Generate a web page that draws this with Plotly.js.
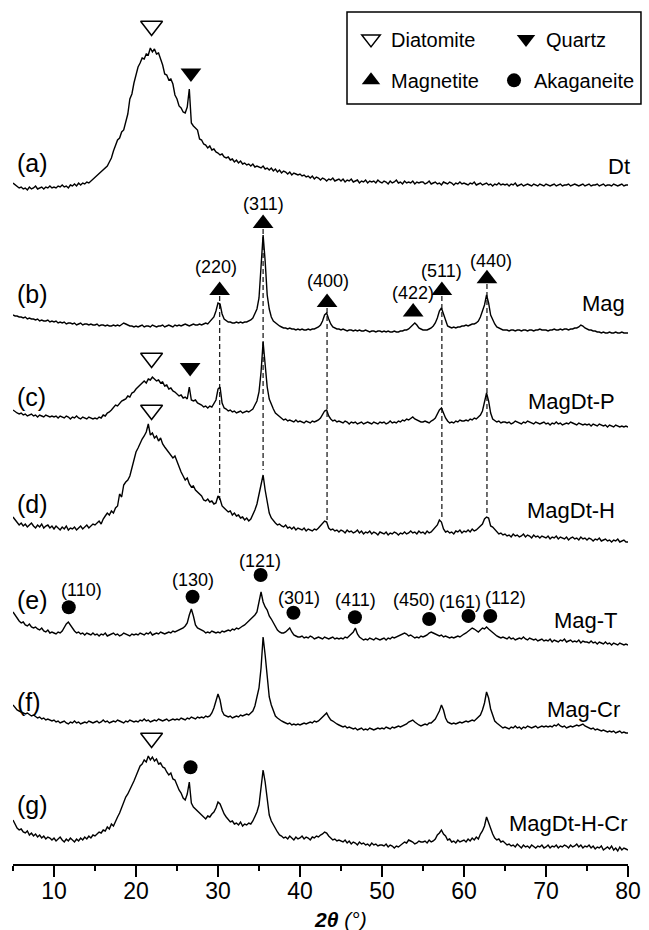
<!DOCTYPE html>
<html><head><meta charset="utf-8">
<script src="https://cdn.plot.ly/plotly-3.0.1.min.js"></script>
<style>html,body{margin:0;padding:0;background:#fff}</style>
</head><body><div id="chart" style="width:649px;height:930px"></div>
<script>
// 2-theta sampling: start 5 deg, step 0.25 deg, 301 points to 80 deg
const sampleNames = ["Dt", "Mag", "MagDt-P", "MagDt-H", "Mag-T", "Mag-Cr", "MagDt-H-Cr"];
const panelLabels = ["(a)", "(b)", "(c)", "(d)", "(e)", "(f)", "(g)"];
const xTickLabels = ["10", "20", "30", "40", "50", "60", "70", "80"];

const intDt = [
2,0,-1,-3,-2,-4,-3,-5,-2,-4,-3,-1,-4,-3,-2,-4,-2,-3,-1,-3,
-2,-3,-1,-2,0,-2,-1,-3,0,-1,1,-1,2,0,2,1,3,2,4,5,
7,10,11,14,15,18,19,23,27,34,39,45,47,53,55,63,71,86,91,102,
109,118,122,127,126,131,130,137,133,136,131,132,126,120,111,110,105,106,101,90,
86,79,77,73,72,78,96,62,59,57,55,46,45,41,40,37,39,35,36,33,
32,30,31,28,27,28,25,26,23,25,22,24,21,22,20,21,19,21,18,19,
18,17,19,16,17,15,17,14,16,13,15,12,14,13,11,13,10,12,11,10,
11,9,10,8,9,7,9,6,8,7,5,7,6,4,6,5,7,4,5,6,
4,6,3,5,4,6,3,4,5,2,4,3,5,2,4,3,4,2,5,3,
2,4,3,1,4,2,3,5,2,3,1,4,2,3,2,4,1,3,2,3,
3,1,2,4,1,2,3,1,2,0,3,2,1,3,2,0,2,1,3,1,
2,1,0,2,1,3,0,1,2,0,1,2,0,1,-1,1,0,2,0,1,
0,1,-1,1,0,2,-1,0,1,-1,0,1,0,-1,1,0,-1,1,0,-1,
1,0,-1,0,1,-1,0,1,-1,0,0,1,-1,0,1,0,-1,0,1,-1,
0,1,-1,0,0,1,-1,0,1,-1,0,0,-1,1,0,-1,0,1,-1,0,
0];

const intMag = [
18,17,17,16,16,15,16,14,15,14,14,13,14,12,13,12,12,13,11,12,
11,12,10,11,10,11,9,10,10,9,10,8,9,10,8,9,9,8,9,8,
8,9,7,8,8,7,8,7,7,8,7,8,7,9,10,9,8,7,7,6,
7,6,7,8,6,7,7,6,8,7,6,7,7,8,6,7,8,7,6,8,
7,8,7,8,9,8,7,8,9,8,8,9,8,9,10,9,11,13,16,22,
30,29,19,14,12,11,11,10,10,11,10,11,10,11,11,12,13,15,19,24,
35,62,98,72,38,24,16,12,10,8,7,6,5,5,4,5,4,4,3,4,
3,4,3,3,4,3,4,4,5,6,8,12,18,20,14,9,6,5,4,4,
3,4,3,2,3,3,2,3,2,3,2,2,3,2,1,2,2,1,2,2,
1,2,1,2,1,1,2,1,1,2,2,3,3,4,6,9,10,8,5,4,
3,3,3,4,5,7,10,15,22,25,19,11,7,6,5,6,5,6,6,7,
7,8,7,8,9,9,10,12,16,22,28,38,30,18,13,9,6,5,4,3,
3,3,2,3,3,2,3,3,2,3,3,2,3,3,2,3,3,4,3,3,
3,2,3,3,4,3,3,4,3,4,4,3,4,4,5,5,6,8,7,5,
4,3,3,2,2,1,1,0,1,0,0,1,0,0,1,0,0,1,0,0,
0];

const intMagDtP = [
17,15,14,13,14,12,13,11,12,13,11,12,10,12,11,10,12,11,10,11,
10,11,9,11,10,9,11,10,8,10,9,11,9,8,10,9,8,10,9,8,
9,8,10,9,12,11,14,15,17,19,22,21,24,26,27,28,31,30,34,35,
38,40,42,43,46,44,48,47,50,48,46,47,44,45,41,42,38,39,36,35,
33,31,32,29,30,28,40,27,26,27,24,23,22,20,21,19,21,20,24,27,
38,40,24,19,18,16,17,15,16,14,15,16,14,15,16,15,17,18,22,26,
35,55,85,62,40,28,22,18,14,12,10,9,7,8,6,7,6,5,7,5,
6,5,4,6,5,4,6,5,6,7,9,12,16,17,11,8,6,7,5,6,
5,4,6,5,3,5,4,5,3,4,5,3,4,5,4,3,5,4,3,5,
4,5,3,4,6,4,5,4,6,5,7,6,8,7,9,10,8,7,6,5,
5,6,5,4,6,7,9,13,17,19,14,9,6,4,5,4,6,5,7,6,
6,7,6,8,7,9,8,10,12,16,24,34,26,14,8,6,5,6,4,5,
5,4,5,3,4,6,5,4,3,5,4,6,5,4,3,5,4,3,4,5,
3,4,2,4,3,5,3,4,2,3,4,3,5,4,3,2,4,3,2,3,
2,3,1,3,2,1,3,2,1,2,0,2,1,0,2,1,0,1,0,1,
0];

const intMagDtH = [
25,22,19,17,19,16,18,15,17,19,16,14,17,15,18,14,16,17,14,16,
13,16,14,12,15,13,16,12,14,13,15,12,14,16,13,15,17,14,16,18,
17,19,21,18,23,26,29,27,31,29,34,36,48,45,57,60,62,66,74,80,
90,94,99,103,106,110,118,107,109,104,106,101,104,98,95,92,90,87,84,86,
80,75,70,66,62,64,58,55,56,52,50,47,46,42,41,43,40,41,38,39,
46,43,36,34,32,30,31,27,29,26,27,24,25,22,24,21,23,27,32,38,
48,58,67,52,38,29,24,21,19,17,18,16,15,17,14,15,13,15,12,14,
13,12,14,11,13,12,11,13,12,14,16,18,21,20,14,12,13,11,12,10,
12,11,9,12,10,11,9,10,12,9,11,8,10,9,11,8,10,9,7,10,
9,8,10,7,9,8,10,9,7,9,8,10,8,9,11,9,10,8,11,9,
10,8,11,9,10,12,14,17,22,20,13,10,11,9,10,8,11,10,12,9,
11,10,12,10,13,11,12,14,15,18,23,25,24,16,15,13,11,8,9,7,
8,6,7,5,8,6,7,5,6,8,5,7,6,4,7,5,6,4,6,5,
4,6,3,5,4,6,3,5,4,3,5,2,4,5,3,4,2,5,3,4,
2,4,3,1,3,2,4,1,2,3,1,2,0,2,1,3,0,1,2,0,
0];

const intMagT = [
33,30,26,24,22,23,20,19,21,18,17,18,16,15,17,14,13,15,12,13,
12,11,13,12,14,18,21,23,20,16,14,12,13,11,12,10,12,11,10,12,
10,11,9,11,10,12,9,10,11,12,10,11,9,10,12,11,10,9,11,10,
11,10,12,11,10,12,11,13,10,11,12,11,13,12,11,12,13,12,14,13,
14,15,16,17,19,22,30,36,29,20,17,16,15,14,12,13,12,14,13,12,
13,12,14,13,14,15,14,16,15,17,16,18,19,20,22,23,25,28,30,33,
42,53,43,38,35,29,26,22,18,15,13,12,12,13,15,17,13,10,9,8,
8,9,7,8,7,9,8,6,7,8,7,6,8,7,6,7,8,6,7,6,
7,6,8,7,9,10,13,17,11,8,6,5,6,5,7,6,5,7,6,5,
6,7,5,7,6,8,7,8,9,10,11,12,11,9,10,8,7,8,7,9,
8,9,10,12,13,12,11,10,9,10,8,9,8,7,8,7,8,9,8,10,
11,12,14,15,17,16,14,13,15,17,16,18,16,14,12,10,9,8,7,8,
7,6,8,6,7,5,6,7,6,8,6,5,7,6,5,6,4,5,6,4,
5,4,6,3,5,4,3,5,4,6,3,4,5,3,4,3,5,2,4,3,
3,2,4,2,3,1,3,2,1,3,1,2,0,2,1,0,2,1,0,1,
0];

const intMagCr = [
28,25,23,22,21,20,19,20,18,17,18,16,15,16,14,15,13,14,13,12,
13,11,12,10,11,12,10,9,11,10,12,10,11,9,10,11,10,12,11,10,
11,12,10,11,13,11,12,10,11,12,11,13,12,11,10,12,11,13,12,11,
12,11,13,12,14,12,13,11,12,13,12,14,13,12,13,14,12,13,14,13,
14,13,15,14,13,15,14,16,15,14,16,15,16,15,17,16,17,20,25,33,
39,33,22,18,17,16,17,15,16,17,16,18,17,18,19,18,20,22,27,35,
45,65,96,78,55,36,28,22,17,15,13,12,11,10,9,10,8,9,8,9,
8,9,10,9,10,11,10,12,11,12,14,16,19,20,16,13,12,10,9,8,
7,6,7,5,6,5,4,5,3,4,5,3,4,3,5,4,3,4,5,4,
5,4,6,5,4,6,5,6,7,6,7,8,9,11,12,13,11,9,8,7,
8,9,8,10,10,12,14,18,22,28,23,15,11,10,9,10,9,10,11,10,
11,12,11,12,13,12,14,15,18,23,30,41,35,24,17,12,10,8,6,5,
6,5,4,6,5,7,5,6,4,6,5,7,6,5,6,7,5,6,7,6,
7,6,7,6,8,7,9,7,6,7,5,6,7,6,7,8,7,8,9,7,
6,5,4,5,3,4,3,2,3,2,1,2,1,2,0,1,2,0,1,0,
0];

const intMagDtHCr = [
30,26,22,20,21,18,17,19,15,17,14,16,13,15,12,14,11,13,12,10,
12,9,11,13,10,8,11,9,12,10,8,11,9,12,10,13,11,14,12,15,
14,16,18,17,20,19,23,21,26,24,29,33,37,42,48,53,56,60,64,69,
74,79,84,86,90,88,94,90,93,89,91,86,87,83,82,78,75,77,71,70,
64,60,57,52,50,56,68,47,43,41,39,36,35,33,31,34,33,36,38,42,
48,46,41,36,33,30,28,29,26,27,25,28,24,26,25,27,26,29,33,38,
45,60,80,68,50,35,29,25,21,18,15,14,12,13,11,14,12,10,13,11,
12,14,11,13,12,10,13,12,14,13,15,16,18,17,14,12,10,11,9,10,
9,8,10,7,9,6,8,7,5,8,6,7,5,6,4,7,5,6,4,5,
5,4,6,3,5,4,2,4,3,5,6,8,7,10,9,8,6,7,9,8,
8,9,7,10,8,9,11,15,17,20,16,14,10,11,8,9,7,10,8,9,
10,8,11,9,12,10,13,11,16,19,24,33,27,20,16,12,10,11,8,9,
7,5,6,4,5,3,6,4,2,5,3,4,2,5,3,2,4,3,5,2,
3,5,2,4,3,5,2,4,3,5,4,2,5,3,4,6,3,5,2,4,
3,5,2,4,1,3,2,4,0,2,3,1,4,0,2,-1,3,0,2,1,
0];

const series = [intDt, intMag, intMagDtP, intMagDtH, intMagT, intMagCr, intMagDtHCr];
// vertical stacking offsets of each pattern
const offsets = [679, 531, 437, 322, 219, 131, 14];

// phase markers (2theta, height above the pattern's offset, pattern index)
const diatomiteX = [21.9, 21.9, 21.9, 21.9];
const diatomiteH = [159, 69, 132, 112];
const diatomitePanel = [0, 2, 3, 6];
const quartzX = [26.7, 26.6];
const quartzH = [112, 59.5];
const quartzPanel = [0, 2];
const magnetiteX = [30.2, 35.5, 43.3, 53.8, 57.3, 62.8];
const magnetiteH = [42.5, 109.5, 30.5, 21, 42.5, 54.3];
const magnetiteHKL = ["(220)", "(311)", "(400)", "(422)", "(511)", "(440)"];
const magnetiteLabelX = [29.8, 35.6, 43.4, 53.8, 57.3, 63.3];
const magnetiteLabelH = [66.5, 129.3, 52, 40.5, 62.5, 72.5];
const akaganeiteX = [11.8, 26.9, 35.2, 39.2, 46.7, 55.75, 60.55, 63.2, 26.65];
const akaganeiteH = [37.7, 48.3, 70, 32.3, 27.7, 26, 29, 29, 82.7];
const akaganeitePanel = [4, 4, 4, 4, 4, 4, 4, 4, 6];
const akaganeiteHKL = ["(110)", "(130)", "(121)", "(301)", "(411)", "(450)", "(161)", "(112)"];
const akaganeiteLabelX = [13.3, 27.0, 35.1, 39.85, 46.8, 53.9, 59.5, 65.1];
const akaganeiteLabelH = [55, 65, 84.5, 47, 45, 45, 43.5, 47];
// dashed magnetite reference lines from pattern (b) to pattern (d)
const refX = [30.2, 35.5, 43.3, 57.3, 62.8];
const refTopH = [37, 104, 25, 37, 49];
const refBottomH = [42, 72, 22, 24, 27];

const FONT = "Liberation Sans, Arial, sans-serif";
const traces = [];

const rx = [], ry = [];
refX.forEach((x, i) => {
  rx.push(x, x, null);
  ry.push(offsets[1] + refTopH[i], offsets[3] + refBottomH[i], null);
});
traces.push({type: 'scatter', mode: 'lines', x: rx, y: ry, showlegend: false, hoverinfo: 'skip',
  line: {color: '#222', width: 1.3, dash: '5px,3px'}});

series.forEach((s, i) => {
  traces.push({type: 'scatter', mode: 'lines', x0: 5, dx: 0.25, y: s.map(v => v + offsets[i]),
    showlegend: false, line: {color: 'black', width: 1.4}});
});

traces.push({type: 'scatter', mode: 'markers', name: 'Diatomite', legend: 'legend', cliponaxis: false,
  x: diatomiteX, y: diatomiteH.map((h, i) => h + offsets[diatomitePanel[i]]),
  marker: {symbol: 'triangle-down-open', size: 19, color: 'black', line: {color: 'black', width: 1.5}}});
traces.push({type: 'scatter', mode: 'markers', name: 'Quartz', legend: 'legend', cliponaxis: false,
  x: quartzX, y: quartzH.map((h, i) => h + offsets[quartzPanel[i]]),
  marker: {symbol: 'triangle-down', size: 18, color: 'black'}});
traces.push({type: 'scatter', mode: 'markers', name: 'Magnetite', legend: 'legend2', cliponaxis: false,
  x: magnetiteX, y: magnetiteH.map(h => h + offsets[1]),
  marker: {symbol: 'triangle-up', size: 18, color: 'black'}});
traces.push({type: 'scatter', mode: 'markers', name: 'Akaganeite', legend: 'legend2', cliponaxis: false,
  x: akaganeiteX, y: akaganeiteH.map((h, i) => h + offsets[akaganeitePanel[i]]),
  marker: {symbol: 'circle', size: 14, color: 'black'}});

const panelH = [22, 39, 30, 38, 45, 31.5, 45];
const sampleRight = [1.006, 0.998, 0.982, 0.982, 0.987, 0.990, 1.003];
const sampleH = [19, 29.5, 25.3, 31.5, 25, 24, 27];

const annotations = [];
panelLabels.forEach((t, i) => annotations.push({text: t, xref: 'x', yref: 'y', x: 5.3, y: offsets[i] + panelH[i],
  xanchor: 'left', yanchor: 'middle', showarrow: false, font: {family: FONT, size: 25, color: 'black'}}));
sampleNames.forEach((t, i) => annotations.push({text: t, xref: 'paper', yref: 'y', x: sampleRight[i], y: offsets[i] + sampleH[i],
  xanchor: 'right', yanchor: 'middle', showarrow: false, font: {family: FONT, size: 22, color: 'black'}}));
magnetiteHKL.forEach((t, i) => annotations.push({text: t, xref: 'x', yref: 'y', x: magnetiteLabelX[i], y: offsets[1] + magnetiteLabelH[i],
  xanchor: 'center', yanchor: 'middle', showarrow: false, font: {family: FONT, size: 18, color: 'black'}}));
akaganeiteHKL.forEach((t, i) => annotations.push({text: t, xref: 'x', yref: 'y', x: akaganeiteLabelX[i], y: offsets[4] + akaganeiteLabelH[i],
  xanchor: 'center', yanchor: 'middle', showarrow: false, font: {family: FONT, size: 18, color: 'black'}}));
annotations.push({text: '<b><i>2θ</i></b> <i>(°)</i>', xref: 'paper', yref: 'paper', x: 0.532, y: -0.0648,
  xanchor: 'center', yanchor: 'middle', showarrow: false, font: {family: FONT, size: 21, color: 'black'}});

const legendBase = {orientation: 'h', xanchor: 'left', yanchor: 'middle', x: 0.5496,
  entrywidthmode: 'pixels', bgcolor: 'rgba(0,0,0,0)', borderwidth: 0,
  font: {family: FONT, size: 20, color: 'black'}};

const layout = {
  width: 649, height: 930,
  margin: {l: 13, r: 21, t: 0, b: 66, pad: 0, autoexpand: false},
  paper_bgcolor: 'white', plot_bgcolor: 'white',
  font: {family: FONT, color: 'black'},
  showlegend: true,
  legend: Object.assign({}, legendBase, {y: 0.955, entrywidth: 110}),
  legend2: Object.assign({}, legendBase, {y: 0.907, entrywidth: 98}),
  xaxis: {range: [5, 80], tickmode: 'array', tickvals: xTickLabels.map(Number), ticktext: xTickLabels,
    showline: true, linewidth: 2, linecolor: 'black', ticks: 'outside', ticklen: 11, tickwidth: 1.5, tickcolor: 'black',
    ticklabelstandoff: -6,
    minor: {tickmode: 'array', tickvals: [5, 15, 25, 35, 45, 55, 65, 75], ticks: 'outside', ticklen: 5, tickwidth: 1.5, tickcolor: 'black', showgrid: false},
    showgrid: false, zeroline: false, automargin: false, tickfont: {family: FONT, size: 23, color: 'black'}},
  yaxis: {range: [0, 864], visible: false, showgrid: false, zeroline: false, automargin: false},
  shapes: [{type: 'rect', xref: 'paper', yref: 'paper', x0: 0.5431, x1: 1.0211, y0: 0.8796, y1: 0.9861,
    line: {color: 'black', width: 1.5}, fillcolor: 'rgba(0,0,0,0)'}],
  annotations: annotations
};

Plotly.newPlot('chart', traces, layout, {staticPlot: true, displayModeBar: false});
</script>
</body></html>
